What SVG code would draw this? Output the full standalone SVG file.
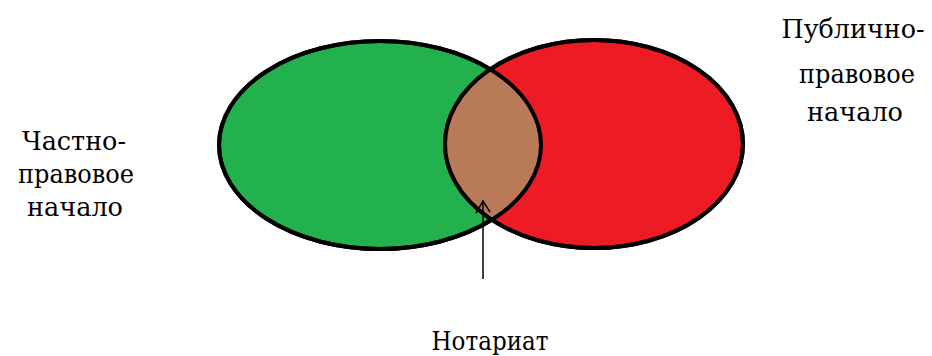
<svg xmlns="http://www.w3.org/2000/svg" width="932" height="356" viewBox="0 0 932 356">
<style>
.lbl{font-family:"DejaVu Serif","Liberation Serif",serif;font-size:26px;fill:#000;text-anchor:middle}
.ell{stroke:#000;stroke-width:4}
</style>
<defs>
<clipPath id="clipG"><ellipse cx="380" cy="145" rx="161" ry="104"/></clipPath>
</defs>
<rect width="932" height="356" fill="#fff"/>
<g id="green">
<ellipse class="ell" cx="380" cy="145" rx="161" ry="104" fill="#22b14c"/>
</g>
<g id="red">
<ellipse class="ell" cx="594" cy="144" rx="149" ry="104" fill="#ed1c24"/>
</g>
<g id="overlap">
<ellipse cx="594" cy="144" rx="149" ry="104" fill="#b97a57" clip-path="url(#clipG)"/>
<ellipse cx="380" cy="145" rx="161" ry="104" fill="none" stroke="#000" stroke-width="4"/>
<ellipse cx="594" cy="144" rx="149" ry="104" fill="none" stroke="#000" stroke-width="4"/>
</g>
<g id="connectors">
<line x1="483" y1="279" x2="483" y2="201" stroke="#000" stroke-width="1.5"/>
<polyline points="476,213 483,201 490,212" fill="none" stroke="#000" stroke-width="1.5"/>
</g>
<g id="private">
<text class="lbl" x="74" y="150" textLength="104" lengthAdjust="spacingAndGlyphs">Частно-</text>
<text class="lbl" x="76" y="183" textLength="116" lengthAdjust="spacingAndGlyphs">правовое</text>
<text class="lbl" x="75" y="216" textLength="96" lengthAdjust="spacingAndGlyphs">начало</text>
</g>
<g id="public">
<text class="lbl" x="853" y="38" textLength="143" lengthAdjust="spacingAndGlyphs">Публично-</text>
<text class="lbl" x="857" y="83" textLength="116" lengthAdjust="spacingAndGlyphs">правовое</text>
<text class="lbl" x="855" y="121" textLength="96" lengthAdjust="spacingAndGlyphs">начало</text>
</g>
<g id="notary">
<text class="lbl" x="490" y="350" textLength="117" lengthAdjust="spacingAndGlyphs">Нотариат</text>
</g>
</svg>
